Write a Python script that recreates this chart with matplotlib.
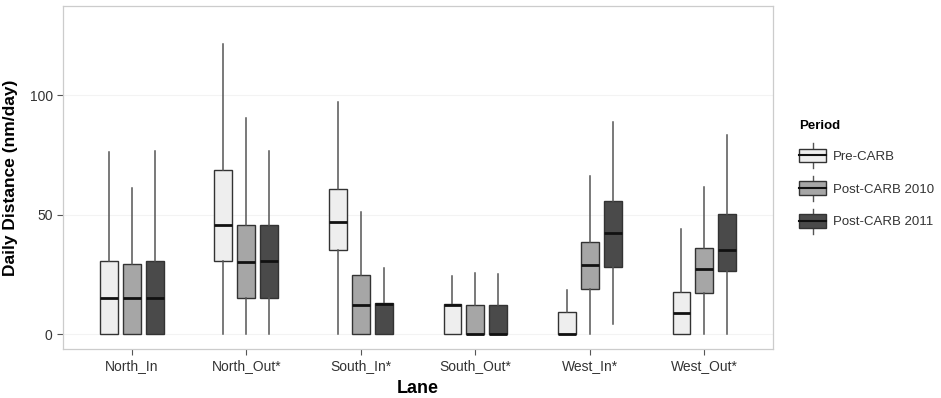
import matplotlib
matplotlib.use("Agg")
import matplotlib.pyplot as plt
from matplotlib.legend_handler import HandlerBase
from matplotlib.patches import Rectangle
from matplotlib.lines import Line2D

plt.rcParams['font.family'] = ['Liberation Sans', 'DejaVu Sans']

lanes = ["North_In", "North_Out*", "South_In*", "South_Out*", "West_In*", "West_Out*"]
periods = ["Pre-CARB", "Post-CARB 2010", "Post-CARB 2011"]
colors = ["#eeeeee", "#a6a6a6", "#4a4a4a"]

# [whislo, q1, med, q3, whishi] per lane
pre_carb = [
    [0, 0, 15.3, 30.8, 76.5],
    [0, 30.4, 45.7, 68.6, 121.7],
    [0, 35.4, 47.1, 60.8, 97.2],
    [0, 0, 12.2, 12.5, 24.5],
    [0, 0, 0, 9.1, 18.6],
    [0, 0, 8.7, 17.6, 43.9],
]
post_2010 = [
    [0, 0, 15.3, 29.4, 61.3],
    [0, 15.1, 30.2, 45.7, 90.7],
    [0, 0, 12.2, 24.6, 51.2],
    [0, 0, 0, 12.2, 25.6],
    [0, 18.7, 28.8, 38.7, 66.4],
    [0, 17.4, 27.3, 36.2, 61.5],
]
post_2011 = [
    [0, 0, 15.3, 30.8, 76.9],
    [0, 15.1, 30.7, 45.7, 76.7],
    [0, 0, 12.6, 13.0, 27.7],
    [0, 0, 0, 12.2, 25.1],
    [4.1, 28.0, 42.5, 55.8, 88.9],
    [0, 26.3, 35.4, 50.1, 83.3],
]
series = [pre_carb, post_2010, post_2011]
yticks = [0, 50, 100]

fig = plt.figure(figsize=(9.41, 3.98), dpi=100)
ax = fig.add_axes([0.067, 0.123, 0.7545, 0.862])

offsets = [-0.2, 0.0, 0.2]
width = 0.155
edge = "#333333"
for s, (data, col, off) in enumerate(zip(series, colors, offsets)):
    stats = []
    for v in data:
        stats.append(dict(whislo=v[0], q1=v[1], med=v[2], q3=v[3], whishi=v[4]))
    pos = [i + 1 + off for i in range(len(lanes))]
    ax.bxp(stats, positions=pos, widths=width, showfliers=False, showcaps=False,
           patch_artist=True, manage_ticks=False,
           boxprops=dict(facecolor=col, edgecolor=edge, linewidth=1.0),
           whiskerprops=dict(color="#555555", linewidth=1.1),
           medianprops=dict(color="#111111", linewidth=2.0, solid_capstyle="butt"))

ax.set_xlim(0.4, 6.6)
ax.set_ylim(-6.3, 137.5)
ax.set_xticks(range(1, len(lanes) + 1))
ax.set_xticklabels(lanes)
ax.set_yticks(yticks)
ax.set_yticklabels([str(t) for t in yticks])
ax.yaxis.grid(True, color="#f3f3f3", linewidth=0.8)
ax.set_axisbelow(True)
for sp in ax.spines.values():
    sp.set_color("#cccccc")
    sp.set_linewidth(0.9)
ax.tick_params(axis="both", colors="#555555", labelcolor="#333333", labelsize=10, length=4, width=0.8)
ax.set_xlabel("Lane", fontsize=13, fontweight="bold", labelpad=5)
ax.set_ylabel("Daily Distance (nm/day)", fontsize=12.5, fontweight="bold", labelpad=8)


class BoxHandler(HandlerBase):
    def __init__(self, fc):
        super().__init__()
        self.fc = fc

    def create_artists(self, legend, orig_handle, xdescent, ydescent, width, height, fontsize, trans):
        x0 = -xdescent
        y0 = -ydescent
        cx = x0 + width / 2
        h = height
        r = Rectangle((x0, y0 + h * 0.14), width, h * 0.72, facecolor=self.fc,
                      edgecolor=edge, linewidth=1.0, transform=trans)
        m = Line2D([x0, x0 + width], [y0 + h / 2] * 2, color="#111111",
                   linewidth=1.5, transform=trans)
        w1 = Line2D([cx, cx], [y0 + h * 0.86, y0 + h * 1.15], color="#555555",
                    linewidth=1.0, transform=trans)
        w2 = Line2D([cx, cx], [y0 - h * 0.15, y0 + h * 0.14], color="#555555",
                    linewidth=1.0, transform=trans)
        return [w1, w2, r, m]


handles = [Rectangle((0, 0), 1, 1, facecolor=c) for c in colors]
leg = fig.legend(handles, periods, loc="upper left", bbox_to_anchor=(0.846, 0.705),
                 frameon=False, title="Period", fontsize=9.5, title_fontsize=9.5,
                 handler_map={h: BoxHandler(c) for h, c in zip(handles, colors)},
                 handlelength=2.1, handleheight=1.84, labelspacing=1.05, handletextpad=0.5,
                 alignment="left", borderpad=0.2, borderaxespad=0)
leg.get_title().set_fontweight("bold")
for t in leg.get_texts():
    t.set_color("#333333")

fig.savefig("out.png", dpi=100)
